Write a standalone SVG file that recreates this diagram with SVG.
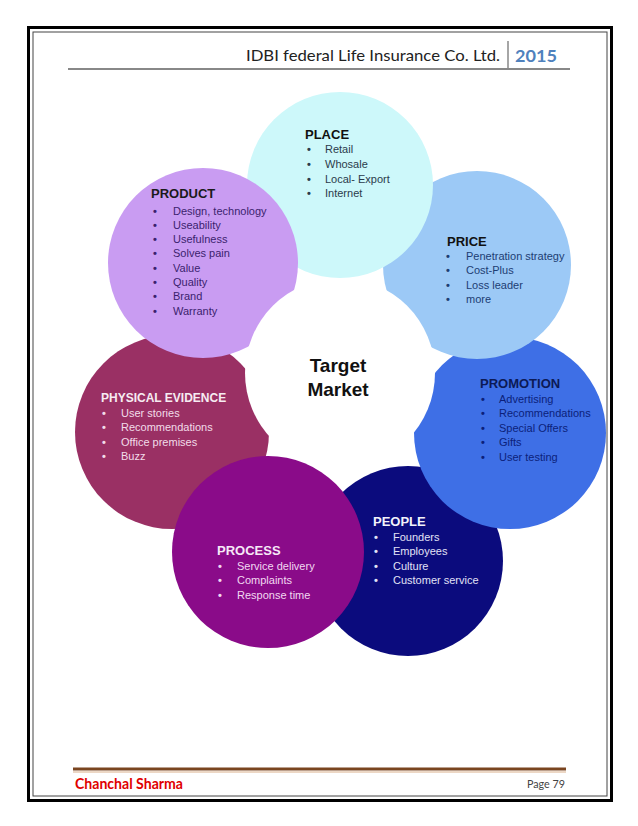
<svg xmlns="http://www.w3.org/2000/svg" width="638" height="826" viewBox="0 0 638 826">
<style>
.t{font-family:"Liberation Sans",Arial,sans-serif;font-weight:bold;font-size:13px}
.i{font-family:"Liberation Sans",Arial,sans-serif;font-size:11px}
.b{font-size:11px;font-weight:bold}
.hd{font-family:Lato,"Open Sans",sans-serif}
</style>
<rect width="638" height="826" fill="#fff"/>
<g id="page-frame" fill="none">
<rect x="28.5" y="27.5" width="583" height="773" stroke="#000" stroke-width="3"/>
<rect x="33" y="32" width="574" height="764" stroke="#444" stroke-width="1"/>
</g>
<g id="header">
<text class="hd" x="246" y="61" font-size="15" fill="#222" textLength="254" lengthAdjust="spacingAndGlyphs">IDBI federal Life Insurance Co. Ltd.</text>
<line x1="508" y1="41" x2="508" y2="69" stroke="#888" stroke-width="1.5"/>
<text class="hd" x="515" y="62" font-size="17" font-weight="bold" fill="#4f81bd" textLength="42" lengthAdjust="spacingAndGlyphs">2015</text>
<line x1="68" y1="69" x2="570" y2="69" stroke="#888" stroke-width="2"/>
</g>
<g id="connectors"/>
<g id="physical-evidence">
<circle cx="172" cy="432" r="97" fill="#9a3064"/>
<text class="t" x="101" y="402" fill="#f6ecf2" style="font-size:12px">PHYSICAL EVIDENCE</text>
<g class="i" fill="#f2dce9">
<text class="b" x="102" y="417">•</text><text x="121" y="417">User stories</text>
<text class="b" x="102" y="431">•</text><text x="121" y="431">Recommendations</text>
<text class="b" x="102" y="446">•</text><text x="121" y="446">Office premises</text>
<text class="b" x="102" y="460">•</text><text x="121" y="460">Buzz</text>
</g>
</g>
<g id="people">
<circle cx="408" cy="561" r="95" fill="#0b0b7d"/>
<text class="t" x="373" y="526" fill="#f2f2fa">PEOPLE</text>
<g class="i" fill="#e2e2f6">
<text class="b" x="374" y="541">•</text><text x="393" y="541">Founders</text>
<text class="b" x="374" y="555">•</text><text x="393" y="555">Employees</text>
<text class="b" x="374" y="570">•</text><text x="393" y="570">Culture</text>
<text class="b" x="374" y="584">•</text><text x="393" y="584">Customer service</text>
</g>
</g>
<g id="process">
<circle cx="268" cy="552" r="96" fill="#8a0b89"/>
<text class="t" x="217" y="555" fill="#f6e8f6">PROCESS</text>
<g class="i" fill="#f2d8f1">
<text class="b" x="218" y="570">•</text><text x="237" y="570">Service delivery</text>
<text class="b" x="218" y="584">•</text><text x="237" y="584">Complaints</text>
<text class="b" x="218" y="599">•</text><text x="237" y="599">Response time</text>
</g>
</g>
<g id="promotion">
<circle cx="510" cy="433" r="96" fill="#3e6fe6"/>
<text class="t" x="480" y="388" fill="#0c1a55">PROMOTION</text>
<g class="i" fill="#0c1f7a">
<text class="b" x="481" y="403">•</text><text x="499" y="403">Advertising</text>
<text class="b" x="481" y="417">•</text><text x="499" y="417">Recommendations</text>
<text class="b" x="481" y="432">•</text><text x="499" y="432">Special Offers</text>
<text class="b" x="481" y="446">•</text><text x="499" y="446">Gifts</text>
<text class="b" x="481" y="461">•</text><text x="499" y="461">User testing</text>
</g>
</g>
<g id="price">
<circle cx="477" cy="265" r="94" fill="#9cc9f6"/>
<text class="t" x="447" y="246" fill="#111">PRICE</text>
<g class="i" fill="#1d3d73">
<text class="b" x="446" y="260">•</text><text x="466" y="260">Penetration strategy</text>
<text class="b" x="446" y="274">•</text><text x="466" y="274">Cost-Plus</text>
<text class="b" x="446" y="289">•</text><text x="466" y="289">Loss leader</text>
<text class="b" x="446" y="303">•</text><text x="466" y="303">more</text>
</g>
</g>
<g id="place">
<circle cx="340" cy="185" r="93" fill="#cdf8fa"/>
<text class="t" x="305" y="139" fill="#111">PLACE</text>
<g class="i" fill="#2b3b4b">
<text class="b" x="307" y="153">•</text><text x="325" y="153">Retail</text>
<text class="b" x="307" y="168">•</text><text x="325" y="168">Whosale</text>
<text class="b" x="307" y="183">•</text><text x="325" y="183">Local- Export</text>
<text class="b" x="307" y="197">•</text><text x="325" y="197">Internet</text>
</g>
</g>
<g id="product">
<circle cx="203" cy="263" r="95" fill="#c99cf2"/>
<text class="t" x="151" y="198" fill="#1a1a1a">PRODUCT</text>
<g class="i" fill="#3b1f6e">
<text class="b" x="153" y="215">•</text><text x="173" y="215">Design, technology</text>
<text class="b" x="153" y="229">•</text><text x="173" y="229">Useability</text>
<text class="b" x="153" y="243">•</text><text x="173" y="243">Usefulness</text>
<text class="b" x="153" y="257">•</text><text x="173" y="257">Solves pain</text>
<text class="b" x="153" y="272">•</text><text x="173" y="272">Value</text>
<text class="b" x="153" y="286">•</text><text x="173" y="286">Quality</text>
<text class="b" x="153" y="300">•</text><text x="173" y="300">Brand</text>
<text class="b" x="153" y="315">•</text><text x="173" y="315">Warranty</text>
</g>
</g>
<g id="target-market">
<circle cx="340" cy="373" r="95" fill="#fff"/>
<text class="t" x="338" y="372" style="font-size:19px" text-anchor="middle" fill="#111">Target</text>
<text class="t" x="338" y="396" style="font-size:19px" text-anchor="middle" fill="#111">Market</text>
</g>
<g id="footer">
<line x1="73" y1="769" x2="566" y2="769" stroke="#7a4520" stroke-width="3"/>
<line x1="73" y1="772" x2="566" y2="772" stroke="#d9b08c" stroke-width="1"/>
<text class="hd" x="75" y="789" font-size="15" font-weight="bold" fill="#e00000" textLength="108" lengthAdjust="spacingAndGlyphs">Chanchal Sharma</text>
<text class="hd" x="527" y="788" font-size="12" fill="#444" textLength="38" lengthAdjust="spacingAndGlyphs">Page 79</text>
</g>
</svg>
